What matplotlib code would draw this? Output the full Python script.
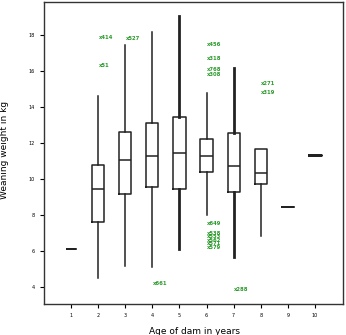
import matplotlib.pyplot as plt

# weaning weight (kg) summary by age of dam
ages = [1, 2, 3, 4, 5, 6, 7, 8, 9, 10]
q1 = [6.1, 7.6, 9.17, 9.56, 9.44, 10.39, 9.28, 9.72, 8.44, 11.33]
med = [6.1, 9.44, 11.06, 11.28, 11.44, 11.28, 10.72, 10.33, 8.44, 11.33]
q3 = [6.1, 10.78, 12.6, 13.1, 13.44, 12.22, 12.56, 11.67, 8.44, 11.33]
whislo = [6.1, 4.5, 5.17, 5.1, 6.1, 8.0, 5.67, 6.83, 8.44, 11.33]
whishi = [6.1, 14.6, 17.44, 18.17, 19.06, 14.78, 16.2, 11.67, 8.44, 11.33]
thick = [False, False, False, False, True, False, True, False, False, True]

# flagged cases: (age, weight, case id)
out_age = [2, 2, 3, 4, 6, 6, 6, 6, 6, 6, 6, 6, 6, 6, 7, 8, 8]
out_wt = [17.9, 16.3, 17.8, 4.17, 17.5, 16.7, 16.1, 15.8,
          7.55, 7.0, 6.8, 6.6, 6.4, 6.2, 3.83, 15.3, 14.8]
out_id = ["414", "51", "527", "661", "456", "318", "768", "308",
          "649", "538", "553", "562", "571", "579", "288", "271", "319"]

fig = plt.figure(figsize=(3.46, 3.35), dpi=100)
ax = fig.add_axes([0.127, 0.0925, 0.864, 0.9015])

stats = []
for i in range(len(ages)):
    stats.append(dict(med=med[i], q1=q1[i], q3=q3[i],
                      whislo=whislo[i], whishi=whishi[i], fliers=[]))

for i, a in enumerate(ages):
    lw = 1.1
    wlw = 2.0 if thick[i] else 1.1
    if a == 10:
        lw = 1.8
    w = 0.33 if a == 1 else 0.45
    ax.bxp([stats[i]], positions=[a], widths=w, showcaps=False,
           showfliers=False, patch_artist=False,
           boxprops=dict(color="#222222", linewidth=lw),
           whiskerprops=dict(color="#222222", linewidth=wlw),
           medianprops=dict(color="#222222", linewidth=lw),
           manage_ticks=False)

for a, v, s in zip(out_age, out_wt, out_id):
    ax.text(a + 0.02, v, "x" + s, color="#2a9a2a", fontsize=3.8,
            fontweight="bold", va="center", ha="left")

ax.set_xlim(0, 11.03)
ax.set_ylim(3.05, 19.85)
ax.set_xticks(ages)
ax.set_xticklabels([str(a) for a in ages])
ax.set_yticks([4, 6, 8, 10, 12, 14, 16, 18])
ax.tick_params(labelsize=3.5, length=3, width=0.8, direction="out")
for sp in ax.spines.values():
    sp.set_linewidth(1.0)
    sp.set_color("#333333")

ax.set_xlabel("Age of dam in years", fontsize=6.5)
ax.set_ylabel("Weaning weight in kg", fontsize=6.5)
ax.xaxis.set_label_coords(0.505, -0.075)
ax.yaxis.set_label_coords(-0.117, 0.51)

fig.savefig("out.png", dpi=100)
